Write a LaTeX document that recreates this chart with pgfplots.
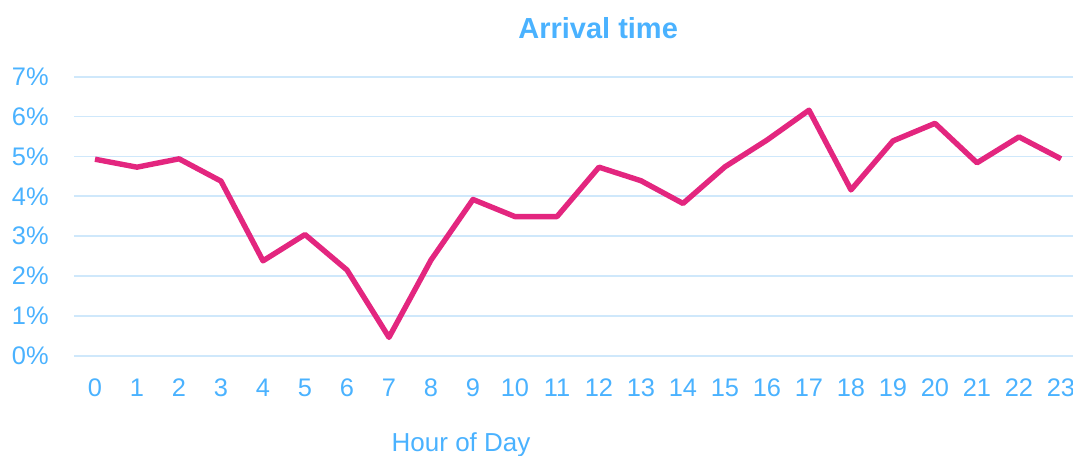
\documentclass[border=0pt]{standalone}
\usepackage{fontspec}
\setmainfont{Liberation Sans}
\usepackage{pgfplots}
\pgfplotsset{compat=1.18}
\definecolor{txtblue}{HTML}{4AB2FF}
\definecolor{gridblue}{HTML}{CFE8FB}
\definecolor{linemag}{HTML}{E3267F}
\begin{document}
\begin{tikzpicture}
\begin{axis}[
  name=ax,
  scale only axis,
  width=504pt, height=139.5pt,
  xmin=-0.5, xmax=23.5,
  ymin=0, ymax=7,
  axis line style={draw=none},
  major tick style={draw=none},
  xtick={0,1,...,23},
  ytick={0,1,...,7},
  ymajorgrids,
  grid style={gridblue, line width=0.8pt},
  /pgf/number format/assume math mode=true,
  yticklabel={\pgfmathprintnumber{\tick}\%},
  ticklabel style={font=\fontsize{12.7}{15}\selectfont, text=txtblue},
  xticklabel style={anchor=base, inner sep=0pt, yshift=-20.3pt},
  yticklabel style={anchor=east, inner sep=0pt, xshift=-12.5pt},
  title={Arrival time},
  title style={font=\fontsize{14.5}{17}\selectfont\bfseries, text=txtblue,
    at={(rel axis cs:0.52,1.095)}, anchor=base, inner sep=0pt},
  xlabel={Hour of Day},
  xlabel style={font=\fontsize{13}{15}\selectfont, text=txtblue,
    at={(rel axis cs:0.384,-0.344)}, anchor=base, inner sep=0pt},
]
\addplot[linemag, line width=2.7pt, line join=round, no marks] coordinates {
(0,4.93) (1,4.73) (2,4.94) (3,4.38) (4,2.38) (5,3.04) (6,2.15) (7,0.46)
(8,2.40) (9,3.92) (10,3.49) (11,3.49) (12,4.73) (13,4.39) (14,3.82)
(15,4.74) (16,5.41) (17,6.16) (18,4.16) (19,5.39) (20,5.83) (21,4.84)
(22,5.49) (23,4.94)
};
\end{axis}
\pgfresetboundingbox
\path[use as bounding box] ([shift={(-37pt,-50.15pt)}]ax.south west) rectangle ([shift={(499.5pt,177.85pt)}]ax.south west);
\end{tikzpicture}
\end{document}
